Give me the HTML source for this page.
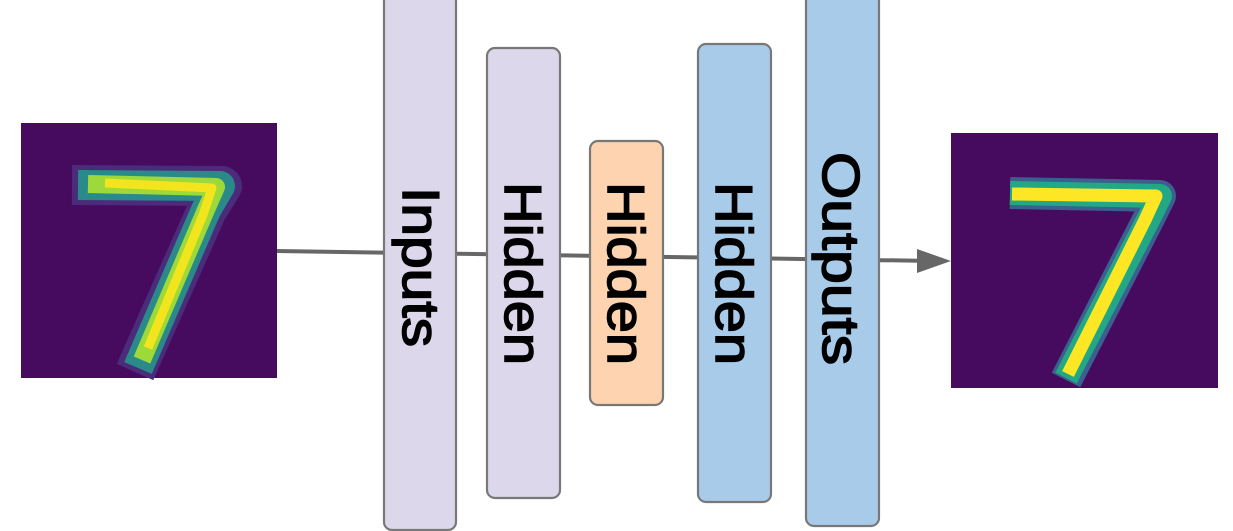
<!DOCTYPE html>
<html><head><style>html,body{margin:0;padding:0;background:#fff;width:1233px;height:531px;overflow:hidden}</style></head>
<body>
<svg width="1233" height="531" viewBox="0 0 1233 531" xmlns="http://www.w3.org/2000/svg">
<line x1="276" y1="251" x2="935" y2="261" stroke="#676767" stroke-width="4"/>
<polygon points="951,261 917,249 917,273" fill="#676767"/>
<g stroke="#787878" stroke-width="2.2">
<rect x="384" y="-10" width="72" height="540" rx="8" fill="#dcd7ea"/>
<rect x="487" y="48" width="73" height="450" rx="8" fill="#dcd7ea"/>
<rect x="590" y="141" width="73" height="264" rx="8" fill="#fdd3b0"/>
<rect x="698" y="44" width="73" height="458" rx="8" fill="#a9cbea"/>
<rect x="806" y="-10" width="73" height="536" rx="8" fill="#a9cbea"/>
</g>
<g font-family="Liberation Sans, sans-serif" font-size="52" fill="#000" stroke="#000" stroke-width="1.6">
<text transform="translate(403,187) rotate(90)" textLength="160" lengthAdjust="spacingAndGlyphs">Inputs</text>
<text transform="translate(505,182) rotate(90)" textLength="183" lengthAdjust="spacingAndGlyphs">Hidden</text>
<text transform="translate(608,182) rotate(90)" textLength="183" lengthAdjust="spacingAndGlyphs">Hidden</text>
<text transform="translate(716,182) rotate(90)" textLength="183" lengthAdjust="spacingAndGlyphs">Hidden</text>
<text transform="translate(823,152) rotate(90)" textLength="213" lengthAdjust="spacingAndGlyphs">Outputs</text>
</g>
<rect x="21" y="123" width="256" height="255" fill="#460b5e"/>
<g fill="none" stroke-linejoin="round" stroke-linecap="butt">
<polyline points="72,185 222,186 207,210 135,372" stroke="#4a2c7a" stroke-width="40"/>
<polyline points="78,185 220,186 206,210 138,368" stroke="#2a8a8a" stroke-width="30"/>
<polyline points="88,184 216,187 205,212 142,360" stroke="#9ed93a" stroke-width="18"/>
<polyline points="105,183 212,188 203,215 148,348" stroke="#f2e51d" stroke-width="9"/>
</g>
<rect x="951" y="133" width="267" height="255" fill="#460b5e"/>
<g fill="none" stroke-linejoin="round" stroke-linecap="butt">
<polyline points="1010,193 1160,196 1148,220 1066,380" stroke="#3b5f8e" stroke-width="32"/>
<polyline points="1010,193 1160,196 1148,220 1066,378" stroke="#22a884" stroke-width="24"/>
<polyline points="1012,194 1156,196 1145,220 1068,374" stroke="#fde725" stroke-width="13"/>
</g>
</svg>
</body></html>
